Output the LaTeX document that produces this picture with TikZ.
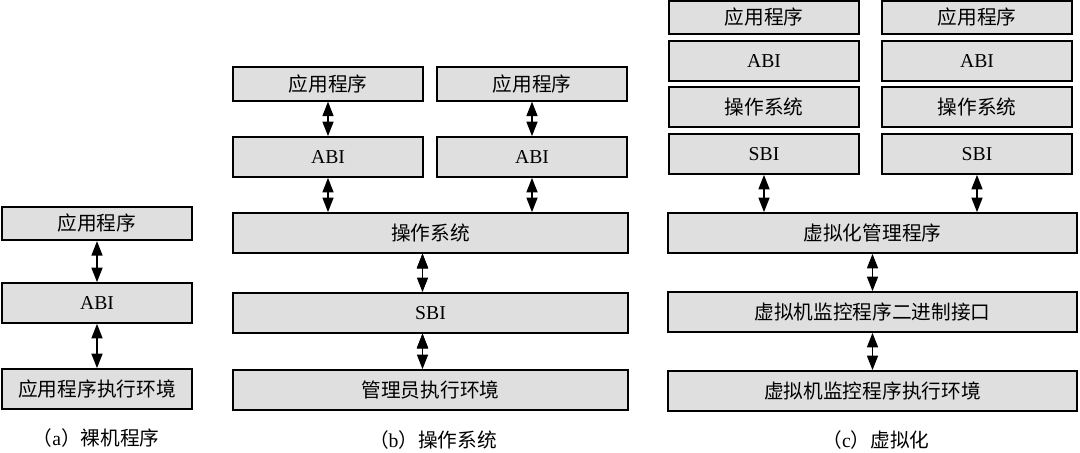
\documentclass[tikz,border=0pt]{standalone}
\usepackage{fontspec}
\setmainfont{Liberation Serif}
\newfontfamily\cjk{Noto Sans CJK SC}
\usetikzlibrary{positioning, arrows.meta}
\tikzset{
	layerbox/.style={
			draw=black,
			line width=1pt,
			fill=gray!25,
			inner sep=0pt,
			minimum width=3.8cm,
			minimum height=0.8cm,
			font=\fontsize{11.2}{13}\selectfont
		},
	appbox/.style={
			layerbox,
			minimum height=0.67cm
		},
	widebox/.style={
			layerbox,
			minimum width=7.9cm
		},
	link/.style={
			line width=0.8pt,
			{Triangle[length=2.9mm,width=2.2mm]}-{Triangle[length=2.9mm,width=2.2mm]}
		},
	caption/.style={
			font=\fontsize{11.2}{13}\selectfont
		}
}

\begin{document}
\begin{tikzpicture}[x=0.02cm, y=-0.02cm]
\useasboundingbox (0,0) rectangle (1080,453);

% (a)
\node[appbox] (aApp) at (97,223.5) {\cjk 应用程序};
\node[layerbox] (aAbi) at (97,303) {ABI};
\node[layerbox] (aEnv) at (97,389) {\cjk 应用程序执行环境};
\node[caption] (aCap) at (96,438) {\cjk （\rmfamily a\cjk ）裸机程序};

\draw[link] (aApp) edge (aAbi);
\draw[link] (aAbi) edge (aEnv);

% (b)
\node[appbox] (bAppL) at (328,84) {\cjk 应用程序};
\node[appbox] (bAppR) at (532,84) {\cjk 应用程序};
\node[layerbox] (bAbiL) at (328,157) {ABI};
\node[layerbox] (bAbiR) at (532,157) {ABI};
\node[widebox] (bOs) at (430.5,233) {\cjk 操作系统};
\node[widebox] (bSbi) at (430.5,313) {SBI};
\node[widebox] (bEnv) at (430.5,390) {\cjk 管理员执行环境};
\node[caption] (bCap) at (433,440) {\cjk （\rmfamily b\cjk ）操作系统};

\draw[link] (bAppL) edge (bAbiL);
\draw[link] (bAppR) edge (bAbiR);
\draw[link] (bAbiL) edge (bAbiL |- bOs.north);
\draw[link] (bAbiR) edge (bAbiR |- bOs.north);
\draw[link] ([xshift=-0.16cm]bOs.south) edge ([xshift=-0.16cm]bSbi.north);
\draw[link] ([xshift=-0.16cm]bSbi.south) edge ([xshift=-0.16cm]bEnv.north);

% (c)
\node[appbox] (cAppL) at (764,17.5) {\cjk 应用程序};
\node[appbox] (cAppR) at (977,17.5) {\cjk 应用程序};
\node[layerbox] (cAbiL) at (764,61) {ABI};
\node[layerbox] (cAbiR) at (977,61) {ABI};
\node[layerbox] (cOsL) at (764,107) {\cjk 操作系统};
\node[layerbox] (cOsR) at (977,107) {\cjk 操作系统};
\node[layerbox] (cSbiL) at (764,154) {SBI};
\node[layerbox] (cSbiR) at (977,154) {SBI};
\node[layerbox, minimum width=8.18cm] (cHyp) at (872.5,233) {\cjk 虚拟化管理程序};
\node[layerbox, minimum width=8.18cm] (cHbi) at (872.5,312) {\cjk 虚拟机监控程序二进制接口};
\node[layerbox, minimum width=8.18cm] (cEnv) at (872.5,391) {\cjk 虚拟机监控程序执行环境};
\node[caption] (cCap) at (876,440) {\cjk （\rmfamily c\cjk ）虚拟化};

\draw[link] (cSbiL) edge (cSbiL |- cHyp.north);
\draw[link] (cSbiR) edge (cSbiR |- cHyp.north);
\draw[link] (cHyp) edge (cHbi);
\draw[link] (cHbi) edge (cEnv);
\end{tikzpicture}
\end{document}
